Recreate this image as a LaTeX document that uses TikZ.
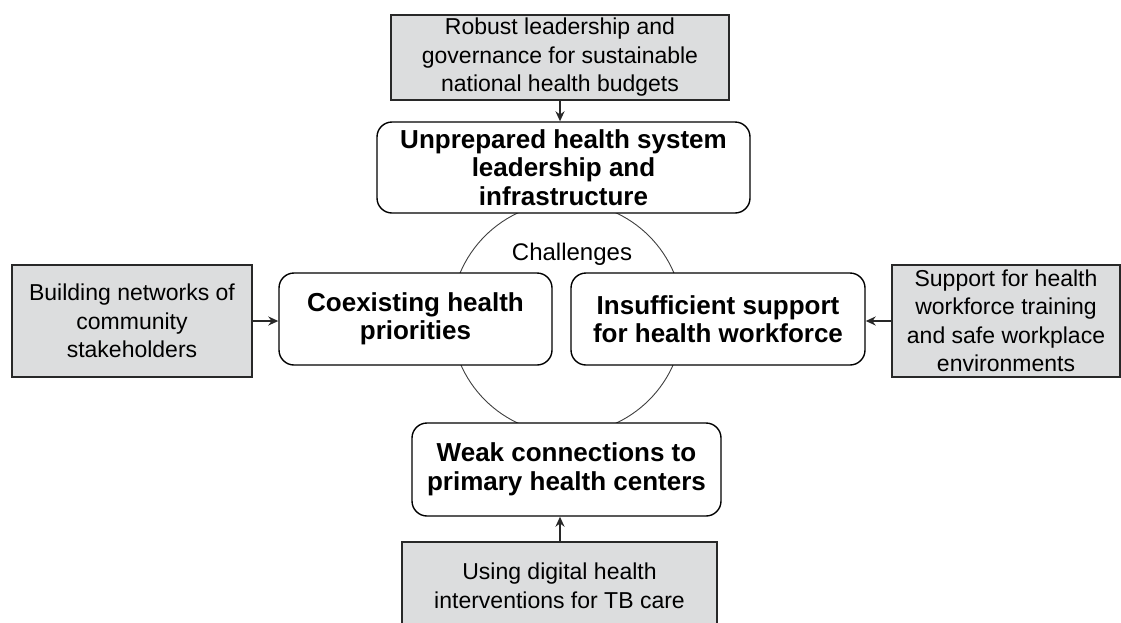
\documentclass[tikz,border=0pt]{standalone}
\usepackage{fontspec}
\setmainfont{Liberation Sans}
\usetikzlibrary{arrows.meta}
\definecolor{boxgrey}{RGB}{220,221,222}
\definecolor{edge}{RGB}{40,40,40}
\tikzset{
  gbox/.style={draw=edge, line width=1.2pt, fill=boxgrey, align=center, inner sep=0pt,
    font=\fontsize{23}{28.5}\selectfont},
  cbox/.style={draw=black, line width=1.4pt, fill=white, rounded corners=15pt, align=center, inner sep=0pt,
    font=\fontsize{26}{28.5}\selectfont\bfseries},
  conn/.style={draw=edge, line width=1.6pt, -{Stealth[length=10pt,width=9pt]}},
}
\begin{document}
\begin{tikzpicture}[x=1pt,y=-1pt]
\useasboundingbox (0,0) rectangle (1121,622);
\clip (0,0) rectangle (1121,622);
\fill[white] (0,0) rectangle (1121,622);
% challenge circle
\draw[line width=0.9pt, draw=black!75] (567,318) circle[radius=116];
% grey solution boxes
\node[gbox, minimum width=338pt, minimum height=85pt] (g1) at (560,57.5)
  {Robust leadership and\\governance for sustainable\\national health budgets};
\node[gbox, minimum width=240pt, minimum height=112pt] (g2) at (132,321)
  {Building networks of\\community\\stakeholders};
\node[gbox, minimum width=228pt, minimum height=112pt] (g3) at (1006,321)
  {Support for health\\workforce training\\and safe workplace\\environments};
\node[gbox, minimum width=315pt, minimum height=88pt] (g4) at (559.5,586)
  {Using digital health\\interventions for TB care};
% challenge boxes
\node[cbox, minimum width=373pt, minimum height=91pt] (c1) at (563.5,167.5)
  {Unprepared health system\\leadership and\\infrastructure};
\node[cbox, minimum width=273pt, minimum height=92pt] (c2) at (415.5,319)
  {Coexisting health\\priorities};
\node[cbox, minimum width=294pt, minimum height=92pt] (c3) at (718,319)
  {Insufficient support\\for health workforce};
\node[cbox, minimum width=309pt, minimum height=93pt] (c4) at (566.5,469.5)
  {Weak connections to\\primary health centers};
\node[font=\fontsize{24}{28.5}\selectfont, inner sep=0pt] (ch) at (572,254) {Challenges};
% connectors
\coordinate (a1) at (560,100);
\draw[conn] (a1) -- (a1 |- c1.north);
\coordinate (a2) at (252,321);
\draw[conn] (a2) -- (a2 -| c2.west);
\coordinate (a3) at (892,321);
\draw[conn] (a3) -- (a3 -| c3.east);
\coordinate (a4) at (560,542);
\draw[conn] (a4) -- (a4 |- c4.south);
\end{tikzpicture}
\end{document}
